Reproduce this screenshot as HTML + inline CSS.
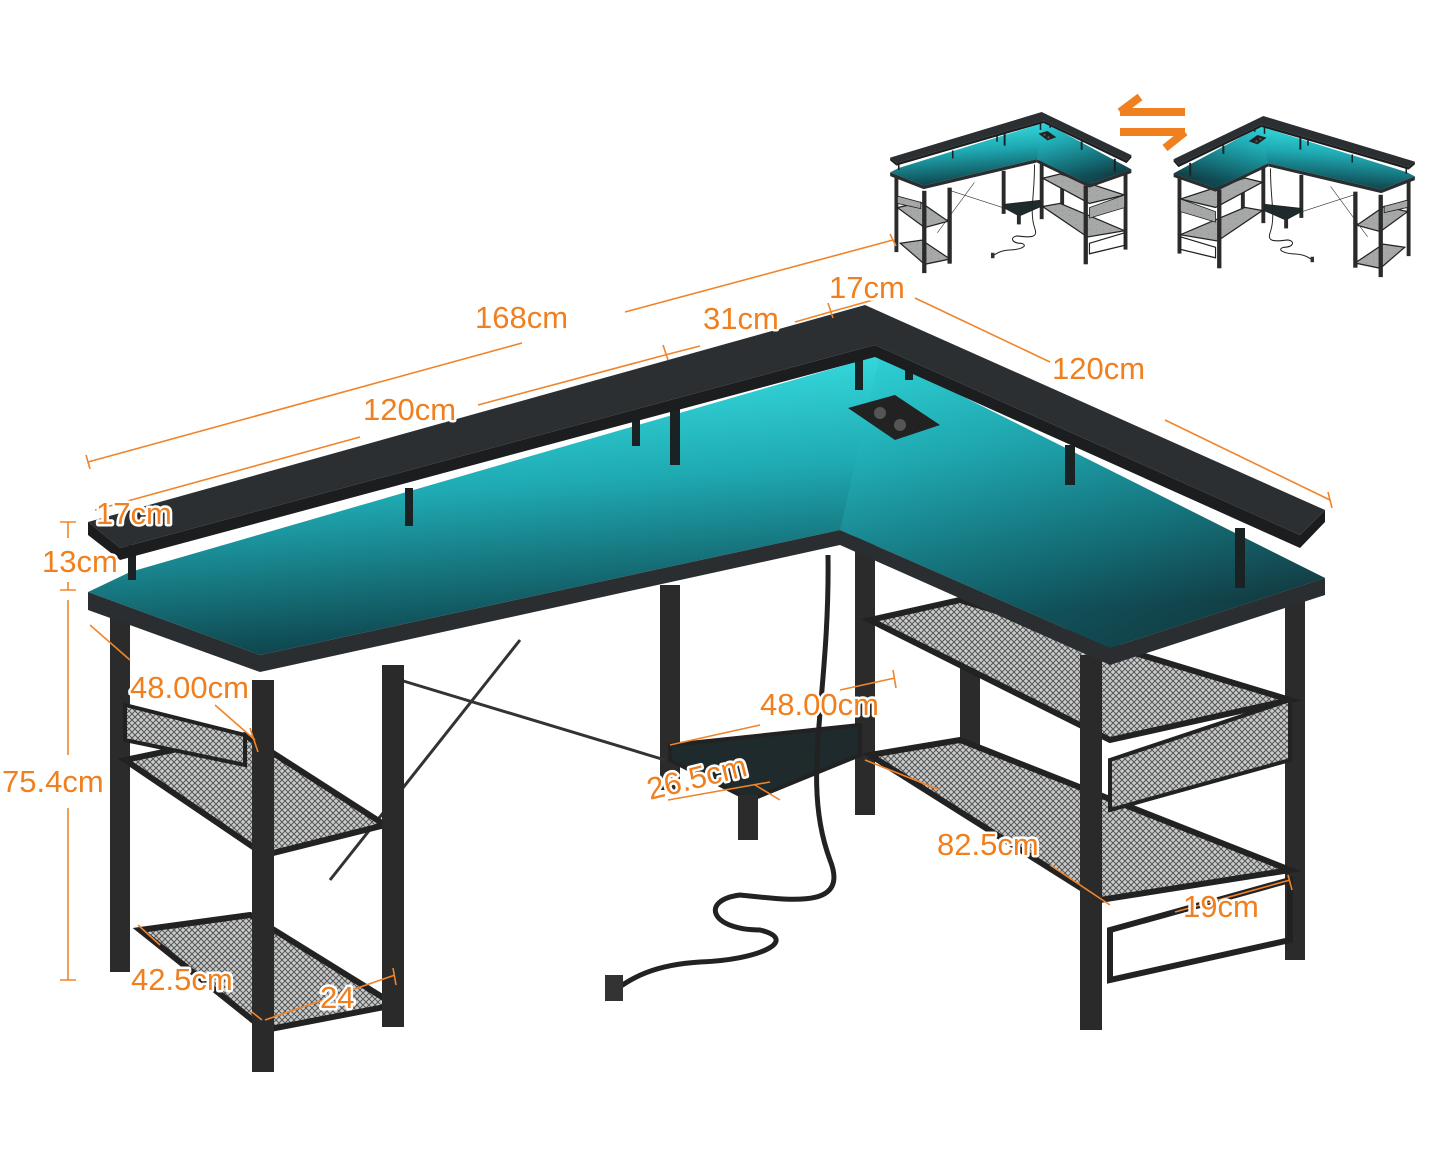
<!DOCTYPE html>
<html><head><meta charset="utf-8">
<style>
html,body{margin:0;padding:0;background:#fff;}
svg{display:block;}
.d{stroke:#f0842a;stroke-width:1.6;fill:none;}
.t{font-family:"Liberation Sans",sans-serif;font-size:31px;fill:#f0801f;stroke:#fff;stroke-width:5px;paint-order:stroke;stroke-linejoin:round;}
</style></head><body>
<svg width="1445" height="1156" viewBox="0 0 1445 1156" xmlns="http://www.w3.org/2000/svg">
<defs>
<linearGradient id="teal" x1="0" y1="0" x2="0.3" y2="1">
<stop offset="0" stop-color="#3ff0f0"/><stop offset="0.5" stop-color="#1fa9b2"/><stop offset="1" stop-color="#0d3c44"/>
</linearGradient>
<linearGradient id="tealR" x1="0" y1="0" x2="1" y2="1">
<stop offset="0" stop-color="#2ad0d6"/><stop offset="0.6" stop-color="#13707a"/><stop offset="1" stop-color="#1b2327"/>
</linearGradient>
<pattern id="mesh" width="6" height="6" patternUnits="userSpaceOnUse">
<rect width="6" height="6" fill="#c9cccc"/><path d="M0 0L6 6M6 0L0 6" stroke="#555" stroke-width="1"/>
</pattern>
<g id="desk">
 <!-- rear legs -->
 <rect x="110" y="612" width="20" height="360" fill="#2b2b2b"/>
 <rect x="660" y="585" width="20" height="205" fill="#2b2b2b"/>
 <rect x="855" y="535" width="20" height="280" fill="#2b2b2b"/>
 <rect x="960" y="595" width="20" height="185" fill="#2b2b2b"/>
 <rect x="1285" y="598" width="20" height="362" fill="#2b2b2b"/>
 <!-- cross brace -->
 <path d="M400 680L665 760M330 880L520 640" stroke="#333" stroke-width="3"/>
 <!-- left shelves -->
 <polygon points="125,760 245,735 385,825 265,855" fill="url(#mesh)" stroke="#222" stroke-width="6"/>
 <polygon points="140,930 250,915 395,1005 265,1030" fill="url(#mesh)" stroke="#222" stroke-width="6"/>
 <polygon points="125,705 245,735 245,765 125,740" fill="url(#mesh)" stroke="#222" stroke-width="4"/>
 <!-- right shelves -->
 <polygon points="870,620 960,600 1290,700 1110,740" fill="url(#mesh)" stroke="#222" stroke-width="6"/>
 <polygon points="870,755 960,740 1290,870 1100,900" fill="url(#mesh)" stroke="#222" stroke-width="6"/>
 <polygon points="1110,760 1290,700 1290,760 1110,810" fill="url(#mesh)" stroke="#222" stroke-width="4"/>
 <polygon points="1110,930 1290,880 1290,940 1110,980" fill="none" stroke="#222" stroke-width="6"/>
 <!-- CPU stand -->
 <polygon points="670,745 860,725 860,755 750,800 670,760" fill="#1e2a2c" stroke="#222" stroke-width="4"/>
 <rect x="738" y="795" width="20" height="45" fill="#2b2b2b"/>
 <!-- cable -->
 <path d="M828 555C830 700 800 780 830 860C850 910 790 900 740 895C700 900 710 930 760 930C800 940 760 960 700 962C650 965 630 980 615 990" stroke="#222" stroke-width="5" fill="none"/>
 <rect x="605" y="975" width="18" height="26" fill="#333"/>
 <!-- front legs -->
 <rect x="252" y="680" width="22" height="392" fill="#2a2a2a"/>
 <rect x="382" y="665" width="22" height="362" fill="#2a2a2a"/>
 <rect x="1080" y="655" width="22" height="375" fill="#2a2a2a"/>
 <!-- desktop -->
 <polygon points="88,592 130,572 880,355 1325,578 1110,648 840,530 260,655" fill="url(#teal)"/>
 <polygon points="840,530 1110,648 1325,578 1325,595 1110,665 840,545" fill="#2a2e30"/>
 <polygon points="88,592 260,655 840,530 840,545 260,672 88,610" fill="#2a2e30"/>
 <polygon points="880,355 1325,578 1110,648 840,530" fill="url(#tealR)" opacity="0.5"/>
 <!-- riser legs -->
 <g fill="#1a2224">
 <rect x="128" y="545" width="8" height="35"/><rect x="405" y="488" width="8" height="38"/><rect x="632" y="418" width="8" height="28"/>
 <rect x="670" y="405" width="10" height="60"/><rect x="855" y="360" width="8" height="30"/><rect x="1065" y="445" width="10" height="40"/>
 <rect x="1235" y="528" width="10" height="60"/><rect x="905" y="365" width="8" height="15"/>
 </g>
 <!-- monitor shelf -->
 <polygon points="88,522 865,305 1325,510 1300,535 875,345 120,548" fill="#2c2f31"/>
 <polygon points="88,522 120,548 120,560 88,535" fill="#1a1c1d"/>
 <polygon points="1325,510 1325,522 1300,548 1300,535" fill="#1a1c1d"/>
 <polygon points="120,548 875,345 875,357 120,560" fill="#1b1d1e"/>
 <polygon points="875,345 1300,535 1300,548 875,357" fill="#1b1d1e"/>
 <!-- power outlet -->
 <polygon points="848,408 895,395 940,425 895,440" fill="#222"/>
 <circle cx="880" cy="413" r="6" fill="#555"/><circle cx="900" cy="425" r="6" fill="#555"/>
</g>
</defs>
<use href="#desk"/>
<use href="#desk" transform="translate(873,48) scale(0.195,0.21)"/>
<use href="#desk" transform="translate(1432,52) scale(-0.195,0.21)"/>
<!-- swap arrows -->
<path d="M1120 112L1185 112M1120 112L1140 97" stroke="#f0801f" stroke-width="8" fill="none"/>
<path d="M1120 132L1185 132M1185 132L1165 148" stroke="#f0801f" stroke-width="8" fill="none"/>
<!-- dimension lines -->
<g class="d">
 <path d="M88 462L522 343M625 312L893 240M86 455L90 469M890 234L896 246"/>
 <path d="M95 510L360 437M478 405L665 355M665 355L700 346M795 322L830 312M830 312L873 300M663 345L668 360M828 303L833 318"/>
 <path d="M915 298L1050 362M1165 420L1330 500M1328 492L1332 508"/>
 <path d="M60 522L76 522M68 522L68 538M68 582L68 590M60 590L76 590M68 600L68 755M68 808L68 980M60 980L76 980"/>
 <path d="M90 625L130 660M215 705L255 740M250 728L258 752"/>
 <path d="M138 925L160 945M252 1012L262 1020M265 1020L395 975M393 968L396 985"/>
 <path d="M670 745L760 725M840 690L895 678M893 670L896 688"/>
 <path d="M668 800L770 782M755 785L780 800"/>
 <path d="M865 760L940 790M1050 865L1110 905"/>
 <path d="M1175 912L1290 880M1288 875L1292 890"/>
</g>
<g class="t">
 <text x="475" y="328">168cm</text>
 <text x="363" y="420">120cm</text>
 <text x="703" y="329">31cm</text>
 <text x="829" y="298">17cm</text>
 <text x="1052" y="379">120cm</text>
 <text x="96" y="524">17cm</text>
 <text x="42" y="572">13cm</text>
 <text x="2" y="792">75.4cm</text>
 <text x="130" y="698">48.00cm</text>
 <text x="131" y="990">42.5cm</text>
 <text x="320" y="1008">24</text>
 <text x="760" y="715">48.00cm</text>
 <text x="650" y="800" transform="rotate(-14 650 800)">26.5cm</text>
 <text x="937" y="855">82.5cm</text>
 <text x="1183" y="917">19cm</text>
</g>
</svg>
</body></html>
